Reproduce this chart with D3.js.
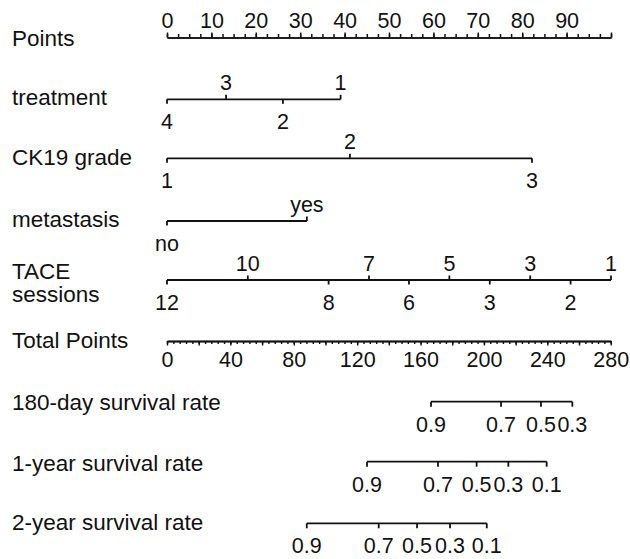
<!DOCTYPE html>
<html>
<head>
<meta charset="utf-8">
<script src="https://cdn.jsdelivr.net/npm/d3@7"></script>
<style>
  body { margin: 0; background: #fff; }
  text { font-family: "Liberation Sans", Arial, sans-serif; fill: #111; }
</style>
</head>
<body>
<svg id="chart"></svg>
<script>
// points scale (0-100)
var pointTicks = [0, 10, 20, 30, 40, 50, 60, 70, 80, 90, 100];
var pointLabels = ["0", "10", "20", "30", "40", "50", "60", "70", "80", "90", ""];

// predictors: level labels and the points they map to
var treatmentLevels = ["4", "3", "2", "1"];
var treatmentPoints = [0, 13.3, 26.1, 39.1];
var ck19Levels = ["1", "2", "3"];
var ck19Points = [0, 41.2, 82.2];
var metastasisLevels = ["no", "yes"];
var metastasisPoints = [0, 31.5];
var taceLevels = ["12", "10", "8", "7", "6", "5", "3", "3", "2", "1"];
var tacePoints = [0, 18.2, 36.4, 45.5, 54.5, 63.6, 72.7, 81.8, 90.9, 100];

// total points scale
var totalTicks = [0, 40, 80, 120, 160, 200, 240, 280];

// survival probabilities and the total points where they sit
var surv180Probs = ["0.9", "0.7", "0.5", "0.3"];
var surv180Total = [166.6, 210.8, 236, 255.8];
var surv1yProbs = ["0.9", "0.7", "0.5", "0.3", "0.1"];
var surv1yTotal = [126.2, 171, 195.4, 215.4, 239.6];
var surv2yProbs = ["0.9", "0.7", "0.5", "0.3", "0.1"];
var surv2yTotal = [88.2, 133.6, 157.8, 178.6, 201.8];

var width = 630, height = 559;
var svg = d3.select("#chart")
    .attr("width", width)
    .attr("height", height);

var x = d3.scaleLinear().domain([0, 100]).range([167, 611]);
var xTotal = d3.scaleLinear().domain([0, 280]).range([167, 610.7]);

var labelX = 12;
var stroke = "#111";

function rowLabel(lines, y) {
    var t = svg.append("text")
        .attr("x", labelX)
        .attr("y", y)
        .attr("font-size", 22.5);
    lines.forEach(function (s, i) {
        t.append("tspan").attr("x", labelX).attr("dy", i === 0 ? 0 : 23).text(s);
    });
}

function styleAxis(g, sw) {
    g.selectAll("text").attr("font-size", 21.5).attr("font-family", null).attr("fill", "#111").attr("dy", 0);
    g.selectAll("path, line").attr("stroke", stroke).attr("stroke-width", sw);
}

// ---- Points axis
rowLabel(["Points"], 46);
var gPtsMinor = svg.append("g").attr("transform", "translate(0,37.5)")
    .call(d3.axisTop(x).tickValues(d3.range(0, 100.01, 2.5)).tickSize(3.5).tickFormat("").tickSizeOuter(0));
styleAxis(gPtsMinor, 1.5);
var gPts = svg.append("g").attr("transform", "translate(0,37.5)")
    .call(d3.axisTop(x).tickValues(pointTicks).tickSize(5).tickPadding(4.5)
        .tickFormat(function (d, i) { return pointLabels[i]; }).tickSizeOuter(0));
styleAxis(gPts, 1.5);

// ---- predictor rows: labels alternate below / above
function predictorRow(name, levels, pts, y, labelY) {
    rowLabel(name, labelY);
    var g = svg.append("g").attr("transform", "translate(0," + y + ")");
    g.append("line")
        .attr("x1", x(d3.min(pts))).attr("x2", x(d3.max(pts)))
        .attr("stroke", stroke).attr("stroke-width", 1.8);
    levels.forEach(function (lv, i) {
        var up = i % 2 === 1;
        g.append("line")
            .attr("x1", x(pts[i])).attr("x2", x(pts[i]))
            .attr("y1", 0).attr("y2", up ? -4.5 : 4.5)
            .attr("stroke", stroke).attr("stroke-width", 1.8);
        g.append("text")
            .attr("x", x(pts[i]))
            .attr("y", up ? -9.5 : 30)
            .attr("text-anchor", "middle")
            .attr("font-size", 21.5)
            .text(lv);
    });
}

predictorRow(["treatment"], treatmentLevels, treatmentPoints, 99.3, 105);
predictorRow(["CK19 grade"], ck19Levels, ck19Points, 158.3, 165);
predictorRow(["metastasis"], metastasisLevels, metastasisPoints, 221, 227);
predictorRow(["TACE", "sessions"], taceLevels, tacePoints, 280, 279);

// ---- Total Points axis
rowLabel(["Total Points"], 348);
var gTotMinor = svg.append("g").attr("transform", "translate(0,341)")
    .call(d3.axisBottom(xTotal).tickValues(d3.range(0, 280.01, 4)).tickSize(3).tickFormat("").tickSizeOuter(0));
styleAxis(gTotMinor, 1.4);
var gTotMid = svg.append("g").attr("transform", "translate(0,341)")
    .call(d3.axisBottom(xTotal).tickValues(d3.range(0, 280.01, 20)).tickSize(4.5).tickFormat("").tickSizeOuter(0));
styleAxis(gTotMid, 1.4);
var gTot = svg.append("g").attr("transform", "translate(0,341)")
    .call(d3.axisBottom(xTotal).tickValues(totalTicks).tickSize(0).tickPadding(26).tickSizeOuter(0));
styleAxis(gTot, 1.4);

// ---- survival rows
function survivalRow(name, probs, totals, y, labelY) {
    rowLabel([name], labelY);
    var g = svg.append("g").attr("transform", "translate(0," + y + ")");
    g.append("line")
        .attr("x1", xTotal(d3.min(totals))).attr("x2", xTotal(d3.max(totals)))
        .attr("stroke", stroke).attr("stroke-width", 1.8);
    probs.forEach(function (p, i) {
        g.append("line")
            .attr("x1", xTotal(totals[i])).attr("x2", xTotal(totals[i]))
            .attr("y1", 0).attr("y2", 5)
            .attr("stroke", stroke).attr("stroke-width", 1.8);
        g.append("text")
            .attr("x", xTotal(totals[i]))
            .attr("y", 30)
            .attr("text-anchor", "middle")
            .attr("font-size", 21.5)
            .text(p);
    });
}

survivalRow("180-day survival rate", surv180Probs, surv180Total, 401.7, 410);
survivalRow("1-year survival rate", surv1yProbs, surv1yTotal, 461.7, 471);
survivalRow("2-year survival rate", surv2yProbs, surv2yTotal, 523.3, 530);
</script>
</body>
</html>
